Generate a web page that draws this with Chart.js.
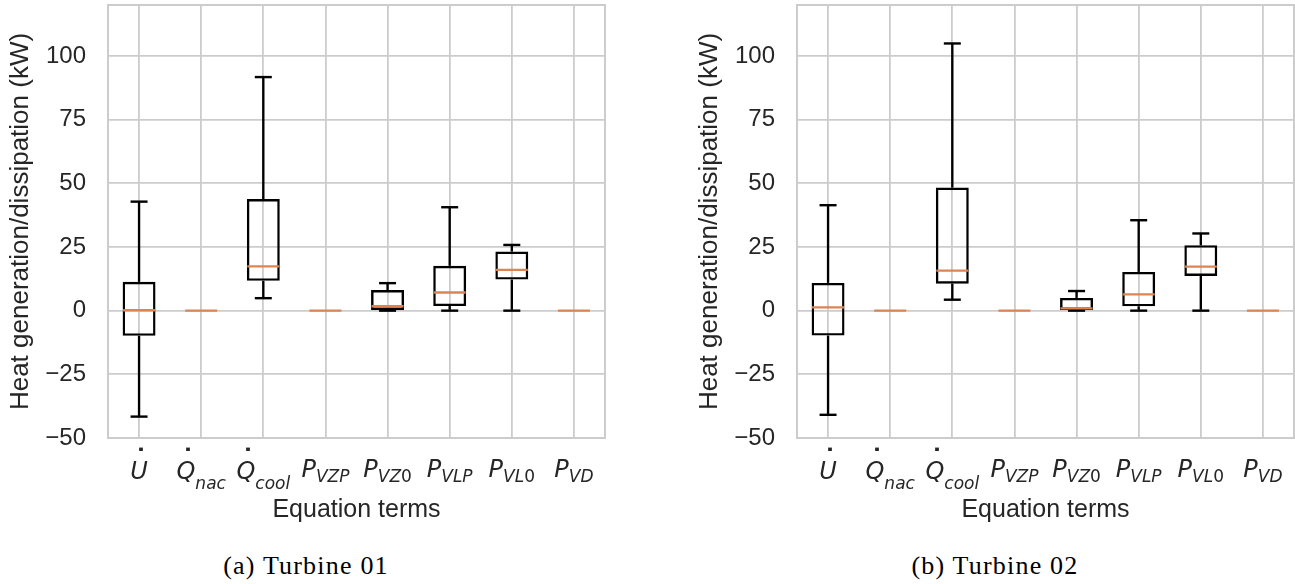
<!DOCTYPE html>
<html>
<head>
<meta charset="utf-8">
<script src="https://cdn.jsdelivr.net/npm/chart.js@4.4.1/dist/chart.umd.min.js"></script>
<style>
  body { margin: 0; background: #fff; width: 1295px; height: 584px; overflow: hidden; position: relative; }
  .panel { position: absolute; top: 0; width: 606px; height: 540px; }
  .caption {
    position: absolute; top: 551px; width: 400px; text-align: center;
    font-family: "Liberation Serif", serif; font-size: 26px; line-height: 30px;
    letter-spacing: 1.2px; color: #000;
  }
</style>
</head>
<body>
<div class="panel" style="left:0"><canvas id="t01" width="606" height="540"></canvas></div>
<div class="panel" style="left:689px"><canvas id="t02" width="606" height="540"></canvas></div>
<div class="caption" style="left:106px">(a) Turbine 01</div>
<div class="caption" style="left:795px">(b) Turbine 02</div>

<script>
// termos da equação (rótulos do eixo x)
const categories = ['U̇', 'Q̇nac', 'Q̇cool', 'PVZP', 'PVZ0', 'PVLP', 'PVL0', 'PVD'];
const termBase = ['U', 'Q', 'Q', 'P', 'P', 'P', 'P', 'P'];
const termSub = ['', 'nac', 'cool', 'VZP', 'VZ0', 'VLP', 'VL0', 'VD'];
const termDot = [true, true, true, false, false, false, false, false];
const yTicks = [-50, -25, 0, 25, 50, 75, 100];

// Turbine 01 (kW)
const t01Low  = [-41.6, 0, 4.9, 0, 0, 0, 0, 0];
const t01Q1   = [-9.9, 0, 11.7, 0, 0.3, 1.8, 12.2, 0];
const t01Med  = [0.15, 0, 17.4, 0, 1.7, 7.1, 16.0, 0];
const t01Q3   = [11.3, 0, 43.8, 0, 8.1, 17.6, 23.2, 0];
const t01High = [42.8, 0, 91.7, 0, 10.8, 40.6, 25.8, 0];

// Turbine 02 (kW)
const t02Low  = [-40.9, 0, 4.3, 0, 0, 0, 0, 0];
const t02Q1   = [-9.8, 0, 10.6, 0, 0.3, 1.7, 13.6, 0];
const t02Med  = [1.3, 0, 15.7, 0, 0.9, 6.4, 17.3, 0];
const t02Q3   = [10.9, 0, 48.3, 0, 5.0, 15.2, 25.7, 0];
const t02High = [41.4, 0, 104.9, 0, 7.7, 35.5, 30.3, 0];

const sans = '"Liberation Sans", Arial, sans-serif';
const textColor = '#262626';
const gridColor = '#cccccc';
const lineW = 2.4;

// moldura cinza em volta da área do gráfico
const framePlugin = {
  id: 'frame',
  beforeDatasetsDraw(chart) {
    const { ctx, chartArea: a } = chart;
    ctx.save();
    ctx.strokeStyle = gridColor;
    ctx.lineWidth = 2;
    ctx.strokeRect(a.left, a.top, a.width, a.height);
    ctx.restore();
  }
};

// rótulos com ponto e subscrito
const termLabelsPlugin = {
  id: 'termLabels',
  afterDraw(chart) {
    const ctx = chart.ctx;
    const xs = chart.scales.x;
    const bottom = chart.chartArea.bottom;
    const baseFont = 'italic 24px "DejaVu Sans"';
    ctx.save();
    ctx.fillStyle = textColor;
    ctx.textBaseline = 'alphabetic';
    termBase.forEach((b, i) => {
      const cx = xs.getPixelForValue(i);
      const isQ = termDot[i];
      ctx.font = baseFont;
      const bw = ctx.measureText(b).width;
      const parts = termSub[i].split('').map(ch => ({
        ch, font: (/\d/.test(ch) ? '' : 'italic ') + '17px "DejaVu Sans"'
      }));
      let sw = 0;
      parts.forEach(p => { ctx.font = p.font; p.w = ctx.measureText(p.ch).width; sw += p.w; });
      const x0 = cx - (bw + sw) / 2;
      const base = bottom + (isQ ? 41 : 39);
      ctx.font = baseFont;
      ctx.textAlign = 'left';
      ctx.fillText(b, x0, base);
      if (termDot[i]) {
        ctx.font = 'bold 28px "DejaVu Sans"';
        ctx.textAlign = 'center';
        ctx.fillText('\u02D9', x0 + bw / 2 + 2, base - 9);
        ctx.textAlign = 'left';
      }
      let sx = x0 + bw;
      const sBase = bottom + (isQ ? 51 : 44);
      parts.forEach(p => { ctx.font = p.font; ctx.fillText(p.ch, sx, sBase); sx += p.w; });
    });
    ctx.restore();
  }
};

function boxChart(id, low, q1, med, q3, high) {
  // sem bigode (tudo zero) a mediana cobre o resto
  const capLow = low.map((v, i) => v === high[i] ? null : v);
  const capHigh = high.map((v, i) => v === low[i] ? null : v);
  return new Chart(document.getElementById(id), {
    type: 'bar',
    data: {
      labels: categories,
      datasets: [
        { type: 'line', label: 'median', data: med, showLine: false, pointStyle: 'line',
          pointRadius: 16, pointBorderColor: '#dd8452', pointBorderWidth: lineW, order: 0 },
        { type: 'line', label: 'cap low', data: capLow, showLine: false, pointStyle: 'line',
          pointRadius: 8.5, pointBorderColor: '#000', pointBorderWidth: lineW, order: 1 },
        { type: 'line', label: 'cap high', data: capHigh, showLine: false, pointStyle: 'line',
          pointRadius: 8.5, pointBorderColor: '#000', pointBorderWidth: lineW, order: 1 },
        { label: 'box', data: q1.map((v, i) => [v, q3[i]]), backgroundColor: 'rgba(0,0,0,0)',
          borderColor: '#000', borderWidth: lineW, borderSkipped: false, grouped: false,
          barPercentage: 0.53, categoryPercentage: 1, order: 2 },
        { label: 'whisker low', data: low.map((v, i) => [v, q1[i]]), backgroundColor: '#000',
          borderWidth: 0, grouped: false, barPercentage: 0.038, categoryPercentage: 1, order: 3 },
        { label: 'whisker high', data: q3.map((v, i) => [v, high[i]]), backgroundColor: '#000',
          borderWidth: 0, grouped: false, barPercentage: 0.038, categoryPercentage: 1, order: 3 }
      ]
    },
    options: {
      responsive: false,
      animation: false,
      events: [],
      layout: { autoPadding: false, padding: { top: 5, right: 1, left: 0, bottom: 0 } },
      plugins: { legend: { display: false }, tooltip: { enabled: false } },
      scales: {
        x: {
          type: 'category',
          offset: true,
          grid: { offset: false, color: gridColor, lineWidth: 1.8, drawTicks: false },
          border: { display: false },
          ticks: { display: false },
          title: { display: true, text: 'Equation terms', color: textColor,
                   font: { family: sans, size: 25 }, padding: { top: 0, bottom: 15 } },
          afterFit: s => { s.height = 102; s.paddingLeft = 0; s.paddingRight = 0; }
        },
        y: {
          min: -50,
          max: 120,
          afterBuildTicks: s => { s.ticks = yTicks.map(v => ({ value: v })); },
          grid: { color: gridColor, lineWidth: 1.8, drawTicks: false },
          border: { display: false },
          ticks: {
            padding: 22, color: textColor, font: { family: sans, size: 24 },
            callback: v => v < 0 ? '\u2212' + Math.abs(v) : String(v)
          },
          title: { display: true, text: 'Heat generation/dissipation (kW)', color: textColor,
                   font: { family: sans, size: 26 }, padding: { top: 5, bottom: 0 } },
          afterFit: s => { s.width = 108; s.paddingTop = 0; s.paddingBottom = 0; }
        }
      }
    },
    plugins: [framePlugin, termLabelsPlugin]
  });
}

boxChart('t01', t01Low, t01Q1, t01Med, t01Q3, t01High);
boxChart('t02', t02Low, t02Q1, t02Med, t02Q3, t02High);
</script>
</body>
</html>
